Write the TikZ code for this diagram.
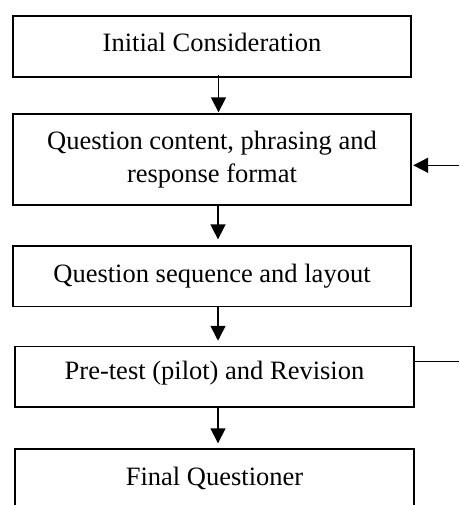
\documentclass[tikz,border=0pt]{standalone}
\usepackage{fontspec}
\setmainfont{Liberation Serif}
\usetikzlibrary{arrows.meta,calc}
\begin{document}
\begin{tikzpicture}[x=1pt,y=-1pt,
  box/.style={draw=black, line width=1.4pt, inner sep=0pt, font=\fontsize{26.5}{32.6}\selectfont, align=center},
  onel/.style={text height=18pt, text depth=6pt},
  arr/.style={line width=1.6pt, -{Triangle[length=15pt,width=15pt]}},
  plainln/.style={line width=1.4pt}]
\useasboundingbox (0,0) rectangle (459,505);
\clip (0,0) rectangle (459,505);
\node[box,text height=18pt,text depth=7pt,minimum width=398pt,minimum height=61pt] (b1) at (212,46.5) {Initial Consideration};
\node[box,minimum width=398pt,minimum height=91pt] (b2) at (212,159.5) {Question content, phrasing and\\response format};
\node[box,onel,minimum width=398pt,minimum height=60.5pt] (b3) at (212,276.3) {Question sequence and layout};
\node[box,text height=18pt,text depth=13pt,minimum width=399pt,minimum height=60.5pt] (b4) at (214.5,376.7) {Pre-test (pilot) and Revision};
\node[box,text height=18pt,text depth=46pt,minimum width=399pt,minimum height=100pt] (b5) at (214.5,499) {Final Questioner};
\coordinate (a1s) at ($(b1.south)+(6.5,-3)$);
\coordinate (a1e) at (a1s |- b2.north);
\coordinate (a2s) at ($(b2.south)+(6,0)$);
\coordinate (a2e) at (a2s |- b3.north);
\coordinate (a3s) at ($(b3.south)+(6,0)$);
\coordinate (a3e) at (a3s |- b4.north);
\coordinate (a4s) at ($(b4.south)+(3.5,0)$);
\coordinate (a4e) at (a4s |- b5.north);
\draw[arr,shorten >=1pt] (a1s) -- (a1e);
\draw[arr,shorten >=6pt] (a2s) -- (a2e);
\draw[arr,shorten >=5pt] (a3s) -- (a3e);
\draw[arr,shorten >=5pt] (a4s) -- (a4e);
\coordinate (fb) at (459,165.3);
\coordinate (fbe) at ($(fb -| b2.east)+(1.5,0)$);
\draw[arr] (fb) -- (fbe);
\coordinate (fa) at (459,361.3);
\draw[plainln] (b4.east |- fa) -- (fa);
\end{tikzpicture}
\end{document}
